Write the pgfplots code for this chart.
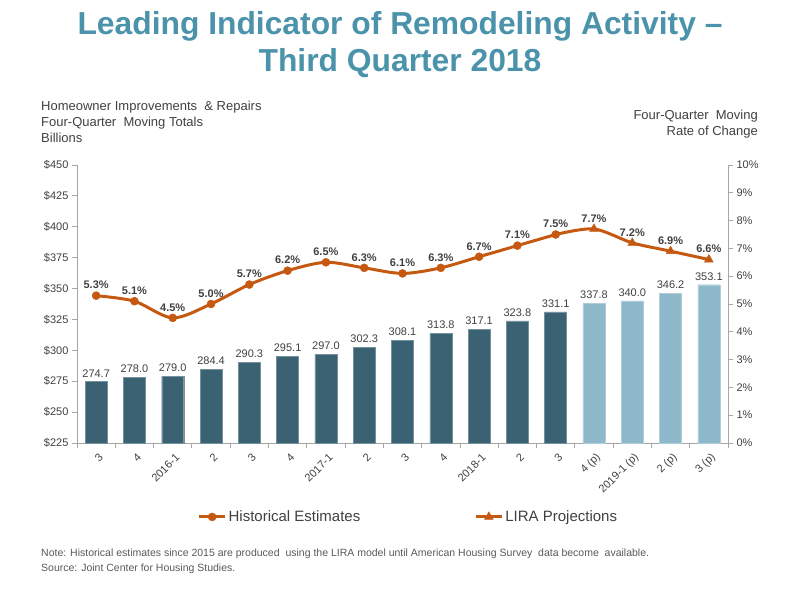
\documentclass[border=0pt]{standalone}
\usepackage{pgfplots}
\pgfplotsset{compat=1.18}
\usepackage{fontspec}
\setmainfont{Liberation Sans}
\definecolor{titleblue}{HTML}{4B93AB}
\definecolor{bardark}{HTML}{3A6273}
\definecolor{barlight}{HTML}{8DB9CA}
\definecolor{lineorange}{HTML}{C65911}
\definecolor{txt}{HTML}{404040}
\definecolor{axgray}{HTML}{A6A6A6}
\definecolor{notegray}{HTML}{595959}

\pgfplotstableread{
x y
0 274.7
1 278.0
2 279.0
3 284.4
4 290.3
5 295.1
6 297.0
7 302.3
8 308.1
9 313.8
10 317.1
11 323.8
12 331.1
}\histbars
\pgfplotstableread{
x y
13 337.8
14 340.0
15 346.2
16 353.1
}\projbars
\pgfplotstableread{
x y
0 5.3
1 5.1
2 4.5
3 5.0
4 5.7
5 6.2
6 6.5
7 6.3
8 6.1
9 6.3
10 6.7
11 7.1
12 7.5
}\histline
\pgfplotstableread{
x y
12 7.5
13 7.7
14 7.2
15 6.9
16 6.6
}\projline
\pgfplotstableread{
x y
13 7.7
14 7.2
15 6.9
16 6.6
}\projmarks

\begin{document}
\begin{tikzpicture}
\useasboundingbox (0pt,0pt) rectangle (800pt,600pt);
% titles
\node[font=\fontsize{31.8}{34}\selectfont\bfseries, text=titleblue, anchor=base] at (400pt,565pt) {Leading Indicator of Remodeling Activity –};
\node[font=\fontsize{31.8}{34}\selectfont\bfseries, text=titleblue, anchor=base] at (400pt,528pt) {Third Quarter 2018};
% left header
\node[font=\fontsize{13}{15}\selectfont, text=txt, anchor=base west, inner sep=0pt] at (41pt,489pt) {Homeowner Improvements \ \& Repairs};
\node[font=\fontsize{13}{15}\selectfont, text=txt, anchor=base west, inner sep=0pt] at (41pt,473pt) {Four-Quarter \ Moving Totals};
\node[font=\fontsize{13}{15}\selectfont, text=txt, anchor=base west, inner sep=0pt] at (41pt,457pt) {Billions};
% right header
\node[font=\fontsize{13}{15}\selectfont, text=txt, anchor=base east, inner sep=0pt] at (758pt,480pt) {Four-Quarter \ Moving};
\node[font=\fontsize{13}{15}\selectfont, text=txt, anchor=base east, inner sep=0pt] at (758pt,464pt) {Rate of Change};
% notes
\node[font=\fontsize{10.5}{12}\selectfont, text=notegray, anchor=base west, inner sep=0pt] at (41pt,44pt) {Note: Historical estimates since 2015 are produced \ using the LIRA model until American Housing Survey \ data become \ available.};
\node[font=\fontsize{10.5}{12}\selectfont, text=notegray, anchor=base west, inner sep=0pt] at (41pt,29pt) {Source: Joint Center for Housing Studies.};

\begin{axis}[
  at={(77pt,157pt)}, anchor=south west,
  width=651pt, height=278pt, scale only axis,
  xmin=-0.5, xmax=16.5,
  ymin=225, ymax=450,
  ytick={225,250,...,450},
  axis x line*=bottom, axis y line*=left,
  axis line style={axgray, line width=0.8pt},
  tick style={axgray, line width=0.8pt},
  tick align=outside,
  major tick length=5pt, minor tick length=5pt,
  xtick={0,...,16},
  major x tick style={draw=none},
  minor xtick={-0.5,0.5,...,16.5},
  xticklabels={3,4,2016-1,2,3,4,2017-1,2,3,4,2018-1,2,3,4 (p),2019-1 (p),2 (p),3 (p)},
  xticklabel style={rotate=45, anchor=east, font=\fontsize{11}{12}\selectfont, text=txt, inner sep=1pt, yshift=-9pt, xshift=-1pt},
  yticklabel style={font=\fontsize{11}{12}\selectfont, text=txt},
  /pgf/number format/assume math mode=true,
  yticklabel={\$\pgfmathprintnumber{\tick}},
  ybar, bar width=22pt, bar shift=0pt,
  nodes near coords={\pgfmathprintnumber[fixed,zerofill,precision=1]{\pgfplotspointmeta}},
  every node near coord/.append style={font=\fontsize{11}{12}\selectfont, text=txt, anchor=south, yshift=1pt},
  clip=false,
]
\addplot[fill=bardark, draw=bardark!70!white, line width=0.4pt] table[x=x,y=y] {\histbars};
\addplot[fill=barlight, draw=barlight!70!white, line width=0.4pt] table[x=x,y=y] {\projbars};
\end{axis}

\begin{axis}[
  at={(77pt,157pt)}, anchor=south west,
  width=651pt, height=278pt, scale only axis,
  xmin=-0.5, xmax=16.5,
  ymin=0, ymax=10,
  ytick={0,1,...,10},
  axis x line=none, axis y line*=right,
  axis line style={axgray, line width=0.8pt},
  tick style={axgray, line width=0.8pt},
  tick align=outside,
  major tick length=5pt,
  yticklabel style={font=\fontsize{11}{12}\selectfont, text=txt},
  /pgf/number format/assume math mode=true,
  yticklabel={\pgfmathprintnumber{\tick}\%},
  clip=false,
  legend style={at={(0.509,-0.266)}, anchor=center, draw=none, fill=none,
    font=\fontsize{15}{17}\selectfont, text=txt, legend columns=2,
    /tikz/every even column/.append style={column sep=112pt}},
  legend image code/.code={
    \draw[#1, mark=none] (0pt,0pt) -- (26pt,0pt);
    \draw[#1] plot coordinates {(13pt,0pt)};
  },
]
\addplot[lineorange, line width=3pt, smooth, tension=0.5, mark=*, mark size=4pt, mark options={fill=lineorange, line width=0.5pt},
  nodes near coords={\pgfmathprintnumber[fixed,zerofill,precision=1]{\pgfplotspointmeta}\%},
  every node near coord/.append style={font=\fontsize{11}{12}\selectfont\bfseries, text=txt, anchor=south, yshift=3pt}]
  table[x=x,y=y] {\histline};
\addlegendentry{Historical Estimates}
\addplot[lineorange, line width=3pt, smooth, tension=0.5, mark=none, forget plot] table[x=x,y=y] {\projline};
\addplot[lineorange, only marks, line width=3pt, mark=triangle*, mark size=5pt, mark options={fill=lineorange, line width=0.5pt},
  nodes near coords={\pgfmathprintnumber[fixed,zerofill,precision=1]{\pgfplotspointmeta}\%},
  every node near coord/.append style={font=\fontsize{11}{12}\selectfont\bfseries, text=txt, anchor=south, yshift=3pt},
  legend image code/.code={
    \draw[lineorange, line width=3pt] (0pt,0pt) -- (26pt,0pt);
    \draw[lineorange, fill=lineorange, line width=0.5pt] plot[mark=triangle*, mark size=5pt] coordinates {(13pt,0pt)};
  }]
  table[x=x,y=y] {\projmarks};
\addlegendentry{LIRA Projections}
\end{axis}
\end{tikzpicture}
\end{document}
